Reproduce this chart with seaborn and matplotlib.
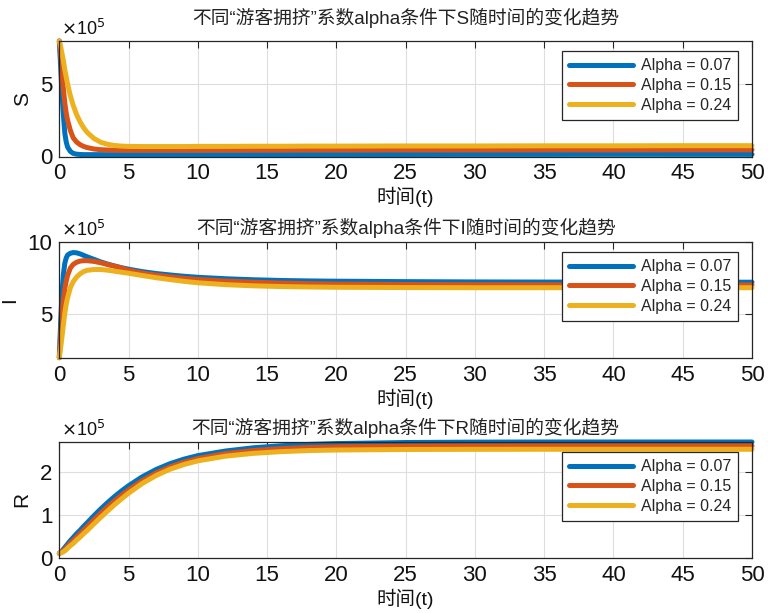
import numpy as np
import pandas as pd
import matplotlib
matplotlib.use("Agg")
import matplotlib.pyplot as plt
import seaborn as sns

# ---- data (values in units of 1e5) ----
t = [0, 0.1, 0.2, 0.3, 0.4, 0.5, 0.6, 0.8, 1.0, 1.25, 1.5, 1.75, 2, 2.5, 3, 3.5, 4,
     4.5, 5, 6, 7, 8, 9, 10, 12, 14, 16, 18, 20, 25, 30, 35, 40, 45, 50]

alphas = ["0.07", "0.15", "0.24"]

S_007 = [8.0, 6.2, 4.3, 2.8, 1.6, 1.0, 0.65, 0.35, 0.22, 0.16, 0.14, 0.13, 0.13, 0.13,
         0.13, 0.13, 0.13, 0.13, 0.13, 0.13, 0.13, 0.13, 0.13, 0.13, 0.13, 0.135, 0.135,
         0.14, 0.14, 0.14, 0.145, 0.145, 0.15, 0.15, 0.15]
S_015 = [8.0, 7.0, 5.8, 4.6, 3.7, 3.0, 2.5, 1.8, 1.3, 1.0, 0.82, 0.7, 0.62, 0.52, 0.47,
         0.45, 0.44, 0.43, 0.43, 0.43, 0.43, 0.43, 0.43, 0.43, 0.435, 0.44, 0.44, 0.445,
         0.445, 0.45, 0.45, 0.455, 0.455, 0.46, 0.46]
S_024 = [8.0, 7.6, 7.1, 6.6, 6.0, 5.5, 5.0, 4.2, 3.55, 2.9, 2.4, 2.0, 1.68, 1.25, 0.98,
         0.84, 0.76, 0.72, 0.70, 0.69, 0.69, 0.69, 0.69, 0.70, 0.70, 0.71, 0.71, 0.72,
         0.72, 0.73, 0.73, 0.74, 0.74, 0.75, 0.75]

I_007 = [2.0, 4.5, 6.5, 7.8, 8.55, 8.9, 9.1, 9.22, 9.27, 9.25, 9.18, 9.08, 8.98, 8.8,
         8.62, 8.47, 8.34, 8.22, 8.12, 7.95, 7.82, 7.72, 7.63, 7.56, 7.46, 7.39, 7.34,
         7.31, 7.29, 7.26, 7.24, 7.23, 7.23, 7.22, 7.22]
I_015 = [2.0, 3.7, 5.0, 6.0, 6.8, 7.3, 7.7, 8.2, 8.45, 8.6, 8.68, 8.71, 8.71, 8.66,
         8.56, 8.44, 8.32, 8.2, 8.05, 7.85, 7.71, 7.59, 7.49, 7.41, 7.30, 7.22, 7.16,
         7.12, 7.09, 7.06, 7.05, 7.04, 7.04, 7.03, 7.03]
I_024 = [2.0, 2.7, 3.5, 4.3, 5.1, 5.7, 6.15, 6.85, 7.25, 7.58, 7.8, 7.95, 8.04, 8.1,
         8.1, 8.05, 7.98, 7.91, 7.84, 7.68, 7.53, 7.4, 7.28, 7.18, 7.05, 6.97, 6.92,
         6.89, 6.87, 6.85, 6.84, 6.84, 6.84, 6.84, 6.84]

R_007 = [0.1, 0.13, 0.16, 0.2, 0.24, 0.28, 0.32, 0.4, 0.47, 0.56, 0.64, 0.73, 0.81,
         0.98, 1.14, 1.29, 1.43, 1.56, 1.68, 1.89, 2.06, 2.195, 2.30, 2.382, 2.49,
         2.565, 2.612, 2.643, 2.663, 2.688, 2.697, 2.70, 2.70, 2.70, 2.70]
R_015 = [0.1, 0.12, 0.14, 0.17, 0.2, 0.23, 0.27, 0.34, 0.4, 0.48, 0.56, 0.64, 0.72,
         0.885, 1.04, 1.19, 1.33, 1.46, 1.582, 1.80, 1.98, 2.12, 2.23, 2.315, 2.43,
         2.50, 2.545, 2.572, 2.588, 2.604, 2.608, 2.61, 2.61, 2.61, 2.61]
R_024 = [0.1, 0.11, 0.12, 0.14, 0.16, 0.19, 0.22, 0.28, 0.33, 0.41, 0.48, 0.56, 0.63,
         0.79, 0.945, 1.095, 1.24, 1.375, 1.505, 1.735, 1.92, 2.065, 2.175, 2.26, 2.37,
         2.435, 2.475, 2.50, 2.513, 2.525, 2.529, 2.53, 2.53, 2.53, 2.53]

xticks = [0, 5, 10, 15, 20, 25, 30, 35, 40, 45, 50]
S_yticks = [0, 5]
I_yticks = [5, 10]
R_yticks = [0, 1, 2]

panels = [
    ("S", [S_007, S_015, S_024], (0, 8), S_yticks),
    ("I", [I_007, I_015, I_024], (2, 10), I_yticks),
    ("R", [R_007, R_015, R_024], (0, 2.7), R_yticks),
]

colors = ["#0072BD", "#D95319", "#EDB120"]

# ---- style ----
sns.set_theme(style="white")
plt.rcParams["font.family"] = ["Liberation Sans", "Noto Sans CJK SC", "DejaVu Sans"]
plt.rcParams["axes.unicode_minus"] = False

W, H = 768, 613
fig = plt.figure(figsize=(W / 100, H / 100), dpi=100)

left, right = 59.3, 752
tops = [41, 242, 442]
bottoms = [156.5, 357.7, 557.7]
title_pads = [12, 6, 6]

edge = "#262626"
for (name, series, ylim, yt), top, bot, tpad in zip(panels, tops, bottoms, title_pads):
    ax = fig.add_axes([left / W, 1 - bot / H, (right - left) / W, (bot - top) / H])
    for vals, a, c in zip(series, alphas, colors):
        df = pd.DataFrame({"t": t, "v": vals})
        sns.lineplot(data=df, x="t", y="v", ax=ax, color=c, lw=3.6,
                     label=f"Alpha = {a}", estimator=None, sort=False, clip_on=False)
    ax.set_xlim(0, 50)
    ax.set_ylim(*ylim)
    ax.set_xticks(xticks)
    ax.set_yticks(yt)
    ax.grid(True, color="#dedede", lw=0.8)
    ax.set_axisbelow(True)
    for sp in ax.spines.values():
        sp.set_color(edge)
        sp.set_linewidth(0.9)
    ax.tick_params(direction="in", length=5, width=0.8, color=edge,
                   top=True, right=True, labelsize=16, labelcolor="#111111", pad=5)
    ax.set_xlabel("时间(t)", fontsize=14, color="#111111", labelpad=2)
    ax.set_ylabel(name, fontsize=15, color="#111111", labelpad=6)
    ax.set_title(f"不同“游客拥挤”系数alpha条件下{name}随时间的变化趋势",
                 fontsize=13.5, color="#222222", pad=tpad)
    ax.text(0.003, 1.015, r"$\times$10$^5$", transform=ax.transAxes,
            fontsize=13, color="#111111", ha="left", va="bottom")
    leg = ax.legend(loc="upper right", bbox_to_anchor=(1 - 14 / 693, 1 - 10 / (bot - top)),
                    borderaxespad=0, fontsize=11.5, handlelength=4.0,
                    handletextpad=0.45, labelspacing=0.3, borderpad=0.45,
                    fancybox=False, framealpha=1, edgecolor=edge)
    leg.get_frame().set_linewidth(0.9)
    leg.set_zorder(5)

fig.savefig("out.png", dpi=100)
